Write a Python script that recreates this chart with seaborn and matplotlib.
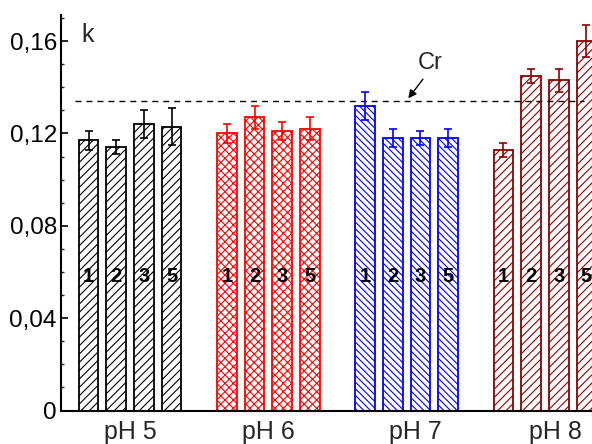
import numpy as np
import pandas as pd
import matplotlib
matplotlib.use("Agg")
import matplotlib.pyplot as plt
import seaborn as sns

# ---- data ----
groups = ["pH 5", "pH 6", "pH 7", "pH 8"]
bar_ids = ["1", "2", "3", "5"]
k_ph5 = [0.117, 0.114, 0.124, 0.123]
k_ph6 = [0.120, 0.127, 0.121, 0.122]
k_ph7 = [0.132, 0.118, 0.118, 0.118]
k_ph8 = [0.113, 0.145, 0.143, 0.160]
err_ph5 = [0.004, 0.003, 0.006, 0.008]
err_ph6 = [0.004, 0.005, 0.004, 0.005]
err_ph7 = [0.006, 0.004, 0.003, 0.004]
err_ph8 = [0.003, 0.003, 0.005, 0.007]
cr_level = 0.134
ytick_vals = [0, 0.04, 0.08, 0.12, 0.16]
ytick_labels = ["0", "0,04", "0,08", "0,12", "0,16"]
group_label_pos = [1.5, 6.5, 11.8, 16.9]

colors = ["#000000", "#FF0000", "#0000FF", "#8B0000"]
hatches = ["////", "xxxx", "\\\\\\\\\\", "////"]

values = [k_ph5, k_ph6, k_ph7, k_ph8]
errors = [err_ph5, err_ph6, err_ph7, err_ph8]

rows = []
for gi, g in enumerate(groups):
    for bi, b in enumerate(bar_ids):
        rows.append({"pos": gi * 5 + bi, "k": values[gi][bi],
                     "err": errors[gi][bi], "group": g, "id": b})
df = pd.DataFrame(rows)

# ---- style ----
sns.set_style("ticks")
plt.rcParams["font.family"] = ["Liberation Sans", "DejaVu Sans"]
plt.rcParams["hatch.linewidth"] = 0.8

fig = plt.figure(figsize=(5.92, 4.44), dpi=100)
ax = fig.add_axes([61 / 592, (444 - 410.5) / 444, 553 / 592, 395.5 / 444])

sns.barplot(data=df, x="pos", y="k", hue="group", hue_order=groups,
            palette=dict(zip(groups, colors)), native_scale=True, dodge=False,
            width=0.71, errorbar=None, legend=False, ax=ax)

for p in ax.patches:
    cx = p.get_x() + p.get_width() / 2
    gi = int(round(cx)) // 5
    p.set_facecolor("white")
    p.set_edgecolor(colors[gi])
    p.set_linewidth(1.3)
    p.set_hatch(hatches[gi])
    if hasattr(p, "set_hatchcolor"):
        p.set_hatchcolor(colors[gi])

for gi, g in enumerate(groups):
    sub = df[df["group"] == g]
    ax.errorbar(sub["pos"], sub["k"], yerr=sub["err"], fmt="none",
                ecolor=colors[gi], elinewidth=1.2, capsize=3, capthick=1.2,
                zorder=5)
    for _, r in sub.iterrows():
        ax.text(r["pos"], 0.058, r["id"], ha="center", va="center",
                fontsize=14.5, fontweight="bold", color="black", zorder=6)

# Cr dashed line
ax.plot([-0.49, 17.9], [cr_level, cr_level], color="black", lw=1.0,
        linestyle=(0, (4.3, 3.6)), zorder=4)
ax.annotate("", xy=(11.56, 0.1352), xytext=(12.09, 0.1435),
            arrowprops=dict(arrowstyle="-|>", color="black", lw=1.0,
                            mutation_scale=12, shrinkA=0, shrinkB=0))
ax.text(12.36, 0.1504, "Cr", ha="center", va="center", fontsize=17)
ax.text(-0.05, 0.1627, "k", ha="center", va="center", fontsize=18)

# axes
ax.set_xlim(-1, 19)
ax.set_ylim(0, 0.1713)
ax.set_yticks(ytick_vals)
ax.set_yticklabels(ytick_labels, fontsize=17.5)
ax.set_yticks(np.arange(0, 0.171, 0.01), minor=True)
ax.tick_params(axis="y", which="major", direction="in", length=5, width=1.2,
               pad=3, colors="black")
ax.tick_params(axis="y", which="minor", direction="in", length=2.5, width=1.0)
ax.set_xticks(group_label_pos)
ax.set_xticklabels(groups, fontsize=18)
ax.tick_params(axis="x", length=0, pad=7)
ax.set_xlabel("")
ax.set_ylabel("")
for s in ["top", "right"]:
    ax.spines[s].set_visible(False)
for s in ["left", "bottom"]:
    ax.spines[s].set_linewidth(1.5)
    ax.spines[s].set_color("black")

fig.savefig("out.png", dpi=100)
